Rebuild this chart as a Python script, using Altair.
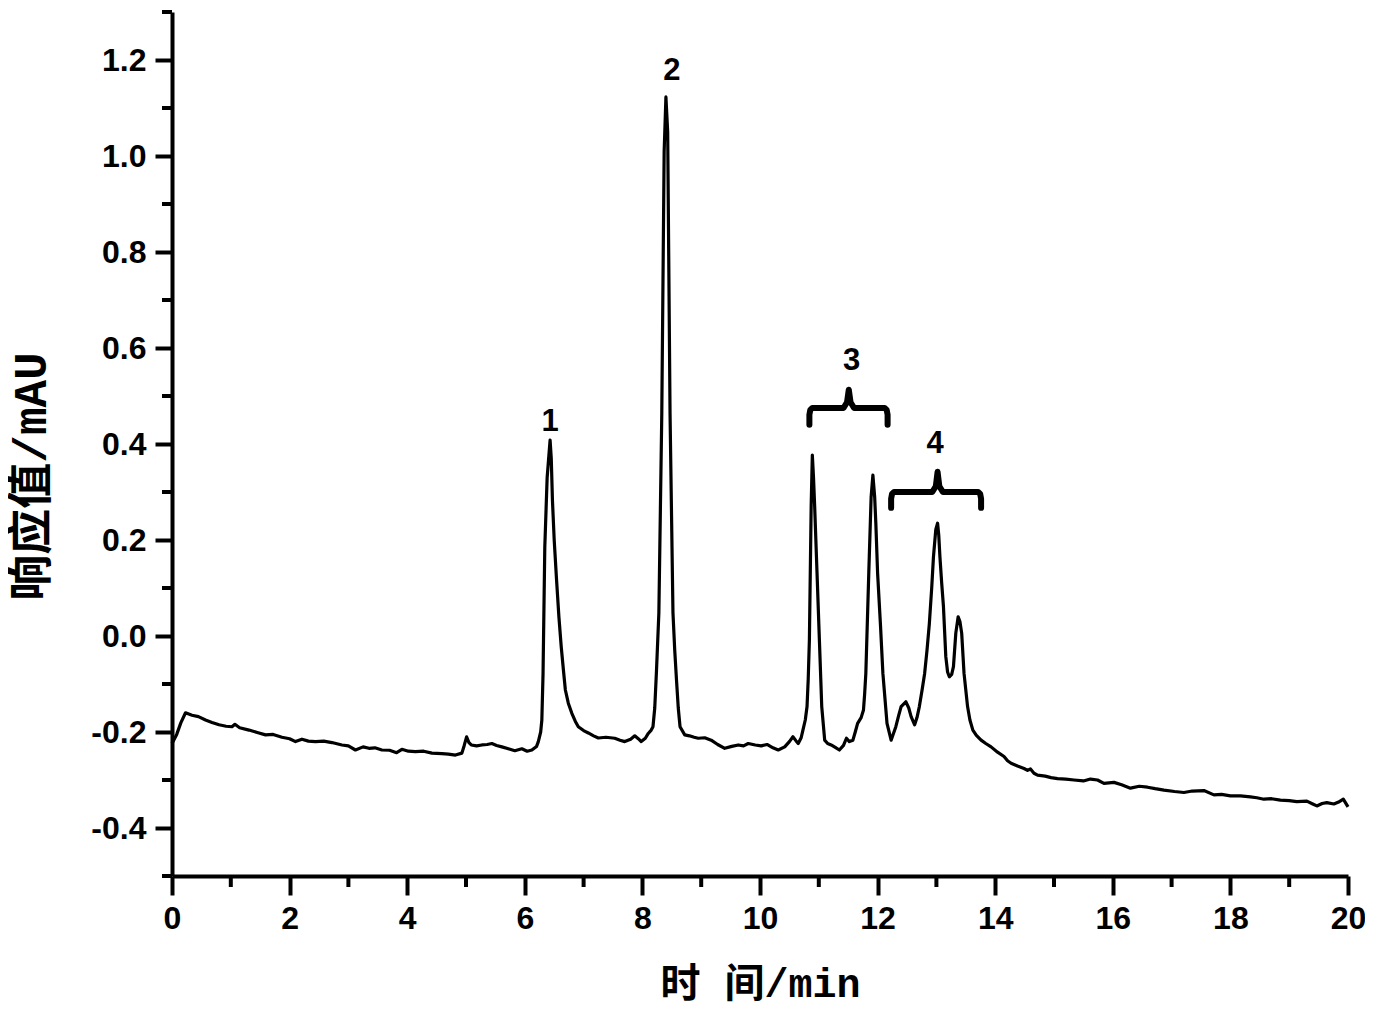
import altair as alt
import pandas as pd

# ---- chromatogram trace (time in min, response in mAU) ----
time = [0.00, 0.08, 0.15, 0.23, 0.34, 0.45, 0.57, 0.68, 0.80, 0.92, 1.02, 1.07, 1.15, 1.31, 1.45, 1.59,
        1.72, 1.87, 2.00, 2.10, 2.21, 2.32, 2.44, 2.58, 2.72, 2.89, 3.00, 3.12, 3.25, 3.35, 3.45, 3.57,
        3.70, 3.82, 3.91, 4.02, 4.14, 4.28, 4.42, 4.59, 4.70, 4.82, 4.93, 4.97, 5.01, 5.05, 5.09, 5.18,
        5.27, 5.36, 5.44, 5.52, 5.61, 5.72, 5.83, 5.95, 6.04, 6.12, 6.20, 6.23, 6.27, 6.29, 6.31, 6.34,
        6.38, 6.43, 6.45, 6.47, 6.50, 6.54, 6.58, 6.62, 6.66, 6.69, 6.74, 6.80, 6.86, 6.91, 7.00, 7.08,
        7.17, 7.25, 7.38, 7.53, 7.62, 7.70, 7.80, 7.87, 7.93, 7.98, 8.05, 8.10, 8.15, 8.18, 8.21, 8.24,
        8.28, 8.33, 8.37, 8.40, 8.43, 8.47, 8.52, 8.55, 8.58, 8.61, 8.64, 8.72, 8.80, 8.88, 8.95, 9.06,
        9.17, 9.28, 9.40, 9.52, 9.63, 9.72, 9.80, 9.92, 10.02, 10.12, 10.22, 10.31, 10.42, 10.50, 10.56,
        10.61, 10.65, 10.70, 10.73, 10.77, 10.80, 10.82, 10.84, 10.87, 10.89, 10.91, 10.93, 10.97, 11.01,
        11.05, 11.10, 11.15, 11.21, 11.28, 11.35, 11.42, 11.47, 11.52, 11.58, 11.62, 11.66, 11.72, 11.76,
        11.78, 11.80, 11.85, 11.89, 11.92, 11.95, 11.97, 12.00, 12.05, 12.09, 12.16, 12.23, 12.31, 12.36,
        12.40, 12.48, 12.53, 12.57, 12.63, 12.67, 12.71, 12.76, 12.80, 12.84, 12.88, 12.92, 12.95, 12.99,
        13.02, 13.04, 13.06, 13.09, 13.12, 13.16, 13.19, 13.22, 13.26, 13.29, 13.33, 13.37, 13.40, 13.43,
        13.47, 13.53, 13.57, 13.62, 13.68, 13.76, 13.84, 13.93, 14.04, 14.15, 14.21, 14.27, 14.38, 14.49,
        14.55, 14.60, 14.66, 14.72, 14.85, 14.95, 15.06, 15.20, 15.34, 15.50, 15.62, 15.74, 15.85, 16.02,
        16.15, 16.30, 16.45, 16.59, 16.72, 16.87, 17.05, 17.21, 17.35, 17.55, 17.72, 17.85, 18.00, 18.17,
        18.34, 18.45, 18.57, 18.70, 18.85, 19.00, 19.13, 19.30, 19.40, 19.47, 19.56, 19.64, 19.76, 19.84,
        19.92, 20.00]
signal = [-0.224, -0.205, -0.181, -0.160, -0.165, -0.168, -0.175, -0.180, -0.185, -0.188, -0.189, -0.184,
          -0.191, -0.196, -0.201, -0.206, -0.205, -0.211, -0.214, -0.220, -0.215, -0.219, -0.220, -0.219,
          -0.222, -0.227, -0.229, -0.2375, -0.231, -0.234, -0.233, -0.2375, -0.238, -0.243, -0.236, -0.240,
          -0.241, -0.240, -0.244, -0.245, -0.246, -0.248, -0.244, -0.228, -0.210, -0.222, -0.227, -0.229,
          -0.227, -0.226, -0.224, -0.228, -0.231, -0.235, -0.239, -0.235, -0.240, -0.2375, -0.230, -0.220,
          -0.200, -0.175, -0.080, 0.185, 0.330, 0.408, 0.370, 0.283, 0.200, 0.117, 0.040, -0.023, -0.075,
          -0.1125, -0.140, -0.161, -0.178, -0.189, -0.197, -0.202, -0.208, -0.2125, -0.211, -0.213, -0.217,
          -0.220, -0.215, -0.208, -0.214, -0.220, -0.213, -0.203, -0.196, -0.189, -0.150, -0.071, 0.048,
          0.465, 1.010, 1.123, 1.050, 0.465, 0.048, -0.030, -0.092, -0.150, -0.189, -0.206, -0.208, -0.211,
          -0.213, -0.212, -0.217, -0.226, -0.234, -0.230, -0.227, -0.229, -0.224, -0.227, -0.229, -0.226,
          -0.233, -0.2375, -0.231, -0.220, -0.210, -0.218, -0.224, -0.212, -0.196, -0.175, -0.147, -0.090,
          -0.008, 0.269, 0.377, 0.330, 0.269, 0.131, -0.008, -0.147, -0.217, -0.224, -0.227, -0.232, -0.2375,
          -0.228, -0.213, -0.220, -0.217, -0.200, -0.182, -0.170, -0.154, -0.120, -0.078, 0.131, 0.290,
          0.335, 0.290, 0.235, 0.131, 0.020, -0.078, -0.182, -0.217, -0.189, -0.165, -0.147, -0.137, -0.150,
          -0.168, -0.185, -0.170, -0.147, -0.110, -0.078, -0.030, 0.026, 0.100, 0.165, 0.222, 0.235, 0.210,
          0.165, 0.110, 0.061, -0.043, -0.075, -0.085, -0.080, -0.064, 0.006, 0.040, 0.030, 0.006, -0.078,
          -0.147, -0.175, -0.196, -0.207, -0.217, -0.224, -0.231, -0.242, -0.251, -0.260, -0.265, -0.271,
          -0.276, -0.280, -0.277, -0.286, -0.290, -0.292, -0.295, -0.297, -0.298, -0.300, -0.302, -0.298,
          -0.300, -0.307, -0.305, -0.310, -0.317, -0.313, -0.315, -0.318, -0.321, -0.324, -0.326, -0.323,
          -0.322, -0.331, -0.330, -0.333, -0.333, -0.335, -0.337, -0.340, -0.339, -0.342, -0.343, -0.345,
          -0.344, -0.350, -0.354, -0.349, -0.347, -0.350, -0.346, -0.340, -0.356]

# ---- peak labels ----
peak_text = ["1", "2", "3", "4"]
peak_time = [6.43, 8.50, 11.56, 12.98]
peak_val = [0.445, 1.178, 0.572, 0.401]

# ---- braces grouping peaks 3 and 4 ----
brace_left = [10.84, 12.23]
brace_right = [12.17, 13.76]
brace_mid = [11.51, 13.02]
brace_bar = [0.475, 0.300]
brace_foot = [0.440, 0.267]
brace_tip = [0.513, 0.342]

# ---- axis ticks ----
x_major = [0, 2, 4, 6, 8, 10, 12, 14, 16, 18, 20]
x_minor = [1, 3, 5, 7, 9, 11, 13, 15, 17, 19]
y_major = [-0.4, -0.2, 0.0, 0.2, 0.4, 0.6, 0.8, 1.0, 1.2]
y_minor = [-0.5, -0.3, -0.1, 0.1, 0.3, 0.5, 0.7, 0.9, 1.1, 1.3]

trace = pd.DataFrame({"t": time, "v": signal, "i": range(len(time))})
labels = pd.DataFrame({"t": peak_time, "v": peak_val, "lab": peak_text})

rows = []
for b in range(len(brace_left)):
    L, R, C = brace_left[b], brace_right[b], brace_mid[b]
    bar, foot, tip = brace_bar[b], brace_foot[b], brace_tip[b]
    pts = [(L, foot), (L, bar - 0.014), (L + 0.015, bar - 0.004), (L + 0.05, bar),
           (C - 0.09, bar), (C - 0.03, bar + 0.012), (C, tip), (C + 0.03, bar + 0.012),
           (C + 0.09, bar), (R - 0.05, bar), (R - 0.015, bar - 0.004), (R, bar - 0.014), (R, foot)]
    for k, (tt, vv) in enumerate(pts):
        rows.append({"t": tt, "v": vv, "b": b, "k": k})
braces = pd.DataFrame(rows)

ymin_df = pd.DataFrame({"v": y_minor})
xmin_df = pd.DataFrame({"t": x_minor})

title_font = "Liberation Mono, Noto Sans CJK SC"
label_font = "Liberation Sans"

xscale = alt.Scale(domain=[0, 20], nice=False, zero=False)
yscale = alt.Scale(domain=[-0.5, 1.3], nice=False, zero=False)

xaxis = alt.Axis(values=x_major, format="d", title="时 间/min", titleFont=title_font,
                 titleFontSize=40, titleFontWeight="bold", titleColor="black",
                 titleBaseline="alphabetic", titleY=120,
                 labelFont=label_font, labelFontSize=32, labelFontWeight="bold", labelColor="black",
                 labelPadding=8, tickSize=19, tickWidth=4, tickColor="black",
                 domainColor="black", domainWidth=4, grid=False, labelFlush=False,
                 labelOverlap=False)
yaxis = alt.Axis(values=y_major,
                 labelExpr="datum.value < 0 ? '-' + format(-datum.value, '.1f') : format(datum.value, '.1f')",
                 title="响应值/mAU", titleFont=title_font, titleFontSize=46,
                 titleFontWeight="bold", titleColor="black", titleAngle=270,
                 titleX=-141, titleY=464, titleBaseline="middle", titleAlign="center",
                 labelFont=label_font, labelFontSize=32, labelFontWeight="bold", labelColor="black",
                 labelPadding=9, tickSize=17, tickWidth=4, tickColor="black",
                 domainColor="black", domainWidth=4, grid=False, labelFlush=False,
                 labelOverlap=False)

X = alt.X("t:Q", scale=xscale, axis=xaxis)
Y = alt.Y("v:Q", scale=yscale, axis=yaxis)

line = alt.Chart(trace).mark_line(color="black", strokeWidth=3.2, strokeJoin="round").encode(
    x=X, y=Y, order="i:Q")

brace_layer = alt.Chart(braces).mark_line(color="black", strokeWidth=6, strokeCap="round",
                                          strokeJoin="round").encode(
    x=X, y=Y, detail="b:N", order="k:Q")

label_layer = alt.Chart(labels).mark_text(font=label_font, fontSize=31, fontWeight="bold",
                                          color="black", baseline="middle", align="center").encode(
    x=X, y=Y, text="lab:N")

ymin_layer = alt.Chart(ymin_df).mark_rule(color="black", strokeWidth=4).encode(
    y=Y, x=alt.value(0), x2=alt.value(-10))

xmin_layer = alt.Chart(xmin_df).mark_rule(color="black", strokeWidth=4).encode(
    x=X, y=alt.value(864), y2=alt.value(875))

chart = alt.layer(line, brace_layer, label_layer, ymin_layer, xmin_layer).properties(
    width=1176, height=864,
    autosize=alt.AutoSizeParams(type="none"),
    padding={"left": 164, "top": 4, "right": 17, "bottom": 132},
    background="white",
).configure_view(stroke=None)

chart.save("out.html", embed_options={"renderer": "svg", "actions": False})
